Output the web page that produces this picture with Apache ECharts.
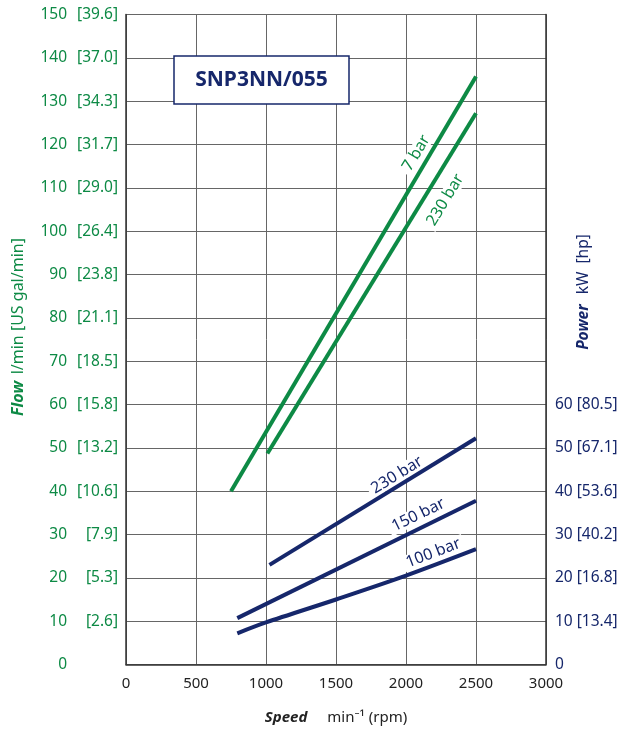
<!DOCTYPE html>
<html><head><meta charset="utf-8">
<script src="https://cdn.jsdelivr.net/npm/echarts@6/dist/echarts.min.js"></script>
<style>html,body{margin:0;padding:0;background:#fff}#c{width:621px;height:731px}</style>
</head><body><div id="c"></div>
<script>
// ---- data ----
const flowTickGal = {0:'',10:'[2.6]',20:'[5.3]',30:'[7.9]',40:'[10.6]',50:'[13.2]',60:'[15.8]',70:'[18.5]',80:'[21.1]',90:'[23.8]',100:'[26.4]',110:'[29.0]',120:'[31.7]',130:'[34.3]',140:'[37.0]',150:'[39.6]'};
const powerTickHp = {0:'',10:'[13.4]',20:'[16.8]',30:'[40.2]',40:'[53.6]',50:'[67.1]',60:'[80.5]'};

const flow7Speed = [750, 2500];
const flow7 = [40, 135.7];
const flow230Speed = [1010, 2500];
const flow230 = [48.7, 127.2];

const power230Speed = [1025, 2500];
const power230 = [23.0, 52.2];
const power150Speed = [795, 2500];
const power150 = [10.7, 37.8];
const power100Speed = [795, 1000, 1500, 2000, 2500];
const power100 = [7.2, 9.7, 15.0, 20.5, 26.6];

// curve labels: text, speed, value, angle
const labelText  = ['7 bar', '230 bar', '230 bar', '150 bar', '100 bar'];
const labelSpeed = [2074, 2281, 1936, 2088, 2195];
const labelValue = [118.0, 107.2, 43.7, 34.5, 25.7];
const labelAngle = [59, 59, 31.5, 26, 21];
const labelIsFlow = [true, true, false, false, false];

const GREEN = '#0d8a45';
const NAVY = '#16276b';
const FONT = '"Noto Sans", "Open Sans", sans-serif';

function pairs(xs, ys){ return xs.map((x,i)=>[x, ys[i]]); }

const chart = echarts.init(document.getElementById('c'), null, {renderer:'canvas'});
const option = {
  animation:false,
  backgroundColor:'#fff',
  grid:{left:126, right:75, top:14.5, bottom:66.5, containLabel:false},
  xAxis:{
    type:'value', min:0, max:3000, interval:500,
    axisLine:{show:true, lineStyle:{color:'#333', width:1.5}},
    axisTick:{show:false},
    splitLine:{show:true, lineStyle:{color:'#666', width:1}},
    axisLabel:{color:'#222', fontSize:15, fontFamily:FONT, margin:12, formatter:function(v){return String(v);}},
    name:'{b|Speed}      {n|min⁻¹ (rpm)}',
    nameLocation:'middle', nameGap:46,
    nameTextStyle:{rich:{
      b:{fontWeight:'bold', fontStyle:'italic', fontSize:15, color:'#222', fontFamily:FONT},
      n:{fontSize:15, color:'#222', fontFamily:FONT}
    }}
  },
  yAxis:[{
    type:'value', min:0, max:150, interval:10, position:'left',
    axisLine:{show:true, lineStyle:{color:'#333', width:1.5}},
    axisTick:{show:false},
    splitLine:{show:true, lineStyle:{color:'#666', width:1}},
    axisLabel:{margin:8, fontFamily:FONT,
      formatter:function(v){ return '{a|'+v+'}{b|'+(flowTickGal[v]||'')+'}'; },
      rich:{
        a:{width:30, align:'right', color:GREEN, fontSize:15.5, fontFamily:FONT},
        b:{width:51, align:'right', color:GREEN, fontSize:15.5, fontFamily:FONT}
      }}
  },{
    type:'value', min:0, max:150, interval:10, position:'right',
    axisLine:{show:true, lineStyle:{color:'#333', width:1.5}},
    axisTick:{show:false},
    splitLine:{show:false},
    axisLabel:{margin:9, color:NAVY, fontSize:15.5, fontFamily:FONT,
      formatter:function(v){ if(v>60) return ''; return v===0 ? '0' : v+' '+powerTickHp[v]; }}
  }],
  graphic:[
    {type:'rect', shape:{x:174, y:56, width:175, height:48}, style:{fill:'#fff', stroke:NAVY, lineWidth:1.5}, z:100},
    {type:'text', x:261.5, y:80, z:101, style:{text:'SNP3NN/055', fill:NAVY, font:'bold 21px '+FONT, textAlign:'center', textVerticalAlign:'middle', align:'center', verticalAlign:'middle'}},
    {type:'text', x:18, y:327, rotation:Math.PI/2, z:101, style:{
      text:'{b|Flow}  {n|l/min [US gal/min]}', textAlign:'center', textVerticalAlign:'middle', align:'center', verticalAlign:'middle',
      rich:{b:{fontWeight:'bold', fontStyle:'italic', fontSize:16, fill:GREEN, fontFamily:FONT}, n:{fontSize:16, fill:GREEN, fontFamily:FONT}}}},
    {type:'text', x:584, y:292, rotation:Math.PI/2, z:101, style:{
      text:'{b|Power}   {n|kW  [hp]}', textAlign:'center', textVerticalAlign:'middle', align:'center', verticalAlign:'middle',
      rich:{b:{fontWeight:'bold', fontStyle:'italic', fontSize:15.5, fill:NAVY, fontFamily:FONT}, n:{fontSize:15.5, fill:NAVY, fontFamily:FONT}}}}
  ],
  series:[
    {type:'line', name:'flow 7 bar', yAxisIndex:0, data:pairs(flow7Speed, flow7), symbol:'none', lineStyle:{color:GREEN, width:4}, z:3},
    {type:'line', name:'flow 230 bar', yAxisIndex:0, data:pairs(flow230Speed, flow230), symbol:'none', lineStyle:{color:GREEN, width:4}, z:3},
    {type:'line', name:'power 230 bar', yAxisIndex:1, data:pairs(power230Speed, power230), symbol:'none', lineStyle:{color:NAVY, width:4}, z:3},
    {type:'line', name:'power 150 bar', yAxisIndex:1, data:pairs(power150Speed, power150), symbol:'none', lineStyle:{color:NAVY, width:4}, z:3},
    {type:'line', name:'power 100 bar', yAxisIndex:1, data:pairs(power100Speed, power100), symbol:'none', smooth:0.3, lineStyle:{color:NAVY, width:4}, z:3},
    {type:'scatter', name:'labels', yAxisIndex:0, symbolSize:0, z:2, silent:true,
      itemStyle:{opacity:1},
      data:labelText.map((t,i)=>({
        value:[labelSpeed[i], labelValue[i]],
        label:{show:true, position:'inside', formatter:t, rotate:labelAngle[i],
          color: labelIsFlow[i] ? GREEN : NAVY, fontSize:16, fontFamily:FONT,
          textBorderWidth:0, textBorderColor:'transparent', opacity:1,
          backgroundColor:'#fff', padding:[0,4]}
      }))
    }
  ]
};
chart.setOption(option);
</script></body></html>
